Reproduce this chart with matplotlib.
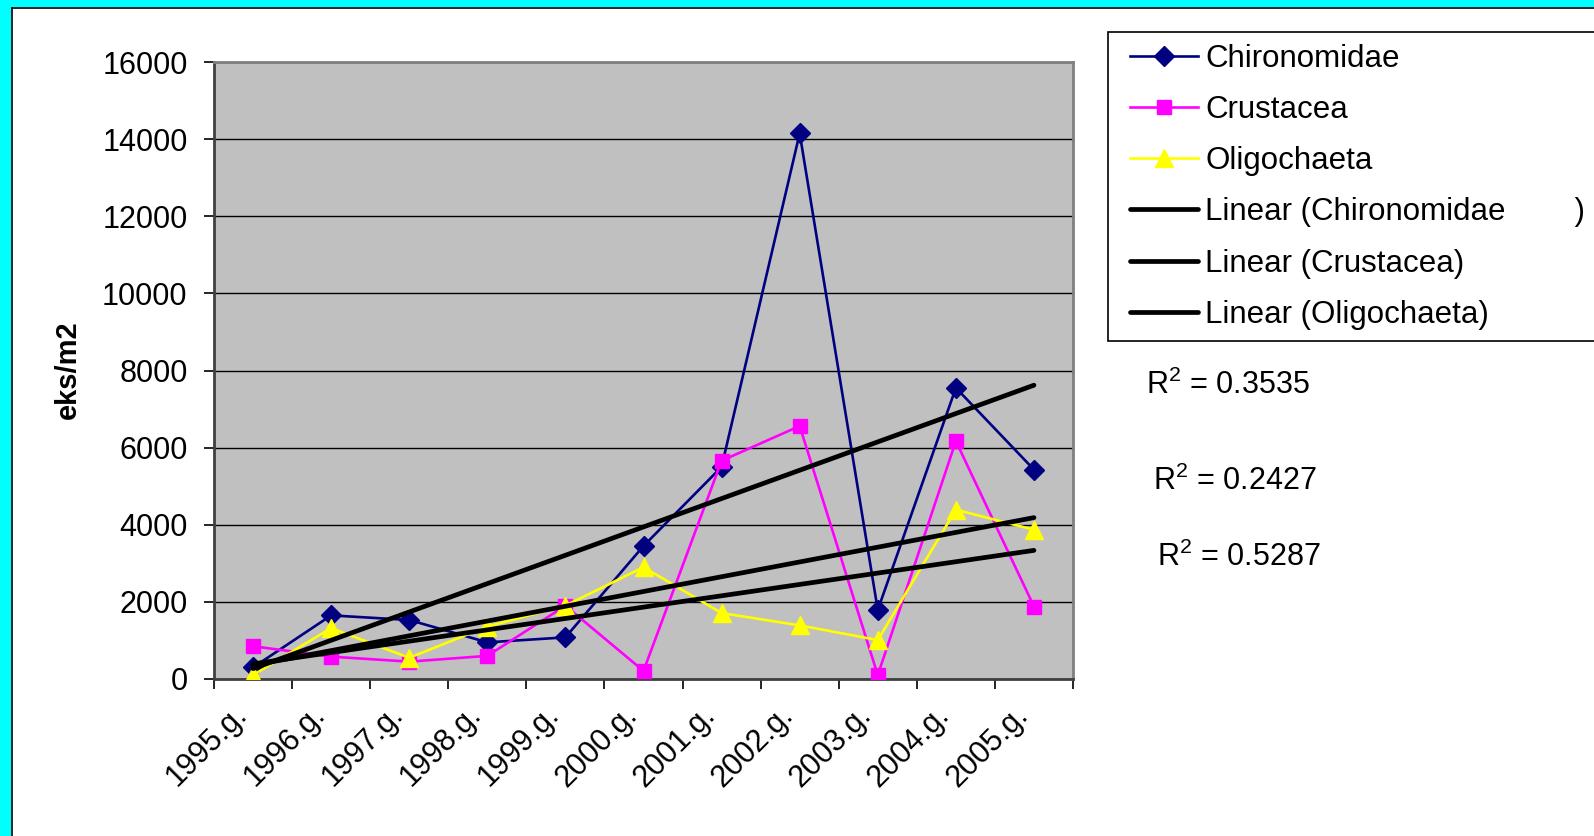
import numpy as np
import matplotlib
matplotlib.use("Agg")
import matplotlib.pyplot as plt
from matplotlib.lines import Line2D
from matplotlib.patches import Rectangle

plt.rcParams['font.family'] = ['Liberation Sans', 'DejaVu Sans']
plt.rcParams['mathtext.fontset'] = 'custom'
plt.rcParams['mathtext.rm'] = 'Liberation Sans'

years = ["1995.g.", "1996.g.", "1997.g.", "1998.g.", "1999.g.", "2000.g.",
         "2001.g.", "2002.g.", "2003.g.", "2004.g.", "2005.g."]
chironomidae = [300, 1650, 1530, 950, 1080, 3450, 5500, 14150, 1790, 7550, 5430]
crustacea = [850, 580, 450, 600, 1900, 210, 5660, 6560, 100, 6170, 1880]
oligochaeta = [100, 1320, 550, 1360, 1900, 2900, 1710, 1390, 1010, 4390, 3870]
r2_labels = ["0.3535", "0.2427", "0.5287"]

W, H = 1594, 836
fig = plt.figure(figsize=(W / 100, H / 100), dpi=100)
fig.patch.set_facecolor("white")

# cyan frame on top and left with a thin dark inner edge
fig.add_artist(Rectangle((0, 1 - 7 / H), 1, 7 / H, transform=fig.transFigure,
                         facecolor="#00FFFF", edgecolor="none"))
fig.add_artist(Rectangle((0, 0), 11 / W, 1, transform=fig.transFigure,
                         facecolor="#00FFFF", edgecolor="none"))
fig.add_artist(Line2D([11.5 / W, 11.5 / W], [0, 1 - 7.5 / H], transform=fig.transFigure,
                      color="black", lw=1.2))
fig.add_artist(Line2D([11.5 / W, 1], [1 - 7.5 / H, 1 - 7.5 / H], transform=fig.transFigure,
                      color="black", lw=1.2))

ax = fig.add_axes([214 / W, (H - 679) / H, (1073 - 214) / W, (679 - 62) / H])
ax.set_facecolor("#C0C0C0")

x = np.arange(len(years))
series = [
    ("Chironomidae", chironomidae, "#000080", "D", 10),
    ("Crustacea", crustacea, "#FF00FF", "s", 10),
    ("Oligochaeta", oligochaeta, "#FFFF00", "^", 12.5),
]

handles = []
for name, vals, col, mk, ms in series:
    h, = ax.plot(x, vals, color=col, lw=1.9, marker=mk, markersize=ms,
                 markerfacecolor=col, markeredgecolor=col, zorder=3)
    handles.append(h)

# least-squares trend lines
trend_handles = []
for name, vals, col, mk, ms in series:
    k, b = np.polyfit(x, vals, 1)
    h, = ax.plot(x, k * x + b, color="black", lw=3.4, solid_capstyle="round", zorder=4)
    trend_handles.append(h)

ax.set_xlim(-0.5, len(years) - 0.5)
ax.set_ylim(0, 16000)
ax.set_yticks(np.arange(0, 16001, 2000))
ax.yaxis.grid(True, color="black", lw=1)
ax.set_axisbelow(True)
ax.tick_params(axis="y", length=7, width=1.2, pad=12, labelsize=22, direction="out")

ax.set_xticks(np.arange(-0.5, len(years), 1))
ax.set_xticklabels([])
ax.tick_params(axis="x", which="major", length=7, width=1.2, direction="out")
ax.set_xticks(x, minor=True)
ax.set_xticklabels(years, minor=True, rotation=45, ha="right", va="bottom",
                   rotation_mode="anchor", fontsize=22)
ax.tick_params(axis="x", which="minor", length=0, pad=30)

for side in ["top", "right"]:
    ax.spines[side].set_color("#808080")
    ax.spines[side].set_linewidth(2)
ax.spines["left"].set_color("#404040")
ax.spines["left"].set_linewidth(2)
ax.spines["bottom"].set_color("#404040")
ax.spines["bottom"].set_linewidth(2)

fig.text(68 / W, 1 - 370 / H, "eks/m2", rotation=90, fontsize=21, fontweight="bold",
         ha="center", va="center")

# legend box runs off the right edge
fig.add_artist(Rectangle((1108 / W, 1 - 341 / H), 1, (341 - 32) / H,
                         transform=fig.transFigure, facecolor="white",
                         edgecolor="black", lw=1.2))
labels = ["Chironomidae", "Crustacea", "Oligochaeta",
          "Linear (Chironomidae        )", "Linear (Crustacea)", "Linear (Oligochaeta)"]
fig.legend(handles + trend_handles, labels, loc="upper left",
           bbox_to_anchor=(1114 / W, 1 - 28 / H), frameon=False, fontsize=22.5,
           handlelength=2.2, handletextpad=0.22, labelspacing=0.68, borderpad=0)

r2_pos = [(1146, 385), (1153, 481), (1157, 557)]
for (px, py), val in zip(r2_pos, r2_labels):
    fig.text(px / W, 1 - py / H, "R$^2$ = " + val, fontsize=22, ha="left", va="center")

fig.savefig("out.png", dpi=100)
